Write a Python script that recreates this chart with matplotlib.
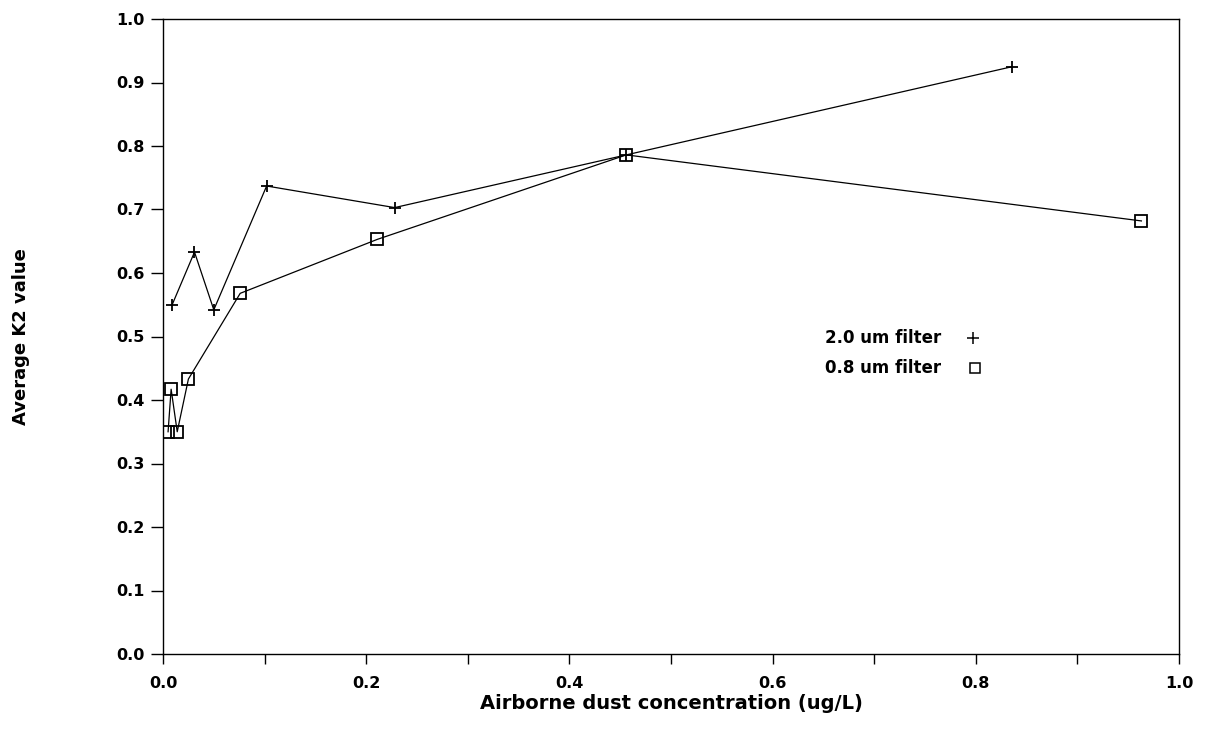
import matplotlib.pyplot as plt
import numpy as np

# ─── Datos ────────────────────────────────────────────────────────
# filtro 2.0 um (+)
x_20 = [0.009, 0.031, 0.050, 0.102, 0.228, 0.456, 0.836]
y_20 = [0.550, 0.633, 0.542, 0.737, 0.703, 0.786, 0.925]
# filtro 0.8 um (cuadrados)
x_08 = [0.005, 0.008, 0.014, 0.025, 0.076, 0.211, 0.456, 0.963]
y_08 = [0.350, 0.417, 0.350, 0.433, 0.568, 0.653, 0.786, 0.682]

xticks = np.arange(0, 1.01, 0.2)
yticks = np.arange(0, 1.01, 0.1)

plt.rcParams['font.family'] = ['DejaVu Sans']
plt.rcParams['font.weight'] = 'bold'

fig = plt.figure(figsize=(12.06, 7.45), dpi=100)
ax = fig.add_axes([163/1206, 1 - 654/745, (1179-163)/1206, (654-19)/745])

ax.plot(x_20, y_20, color='black', lw=0.9, marker='+', ms=9, mew=1.3)
ax.plot(x_08, y_08, color='black', lw=0.9, marker='s', ms=8.5, mew=1.3,
        mfc='none')

ax.set_xlim(0, 1.0)
ax.set_ylim(0, 1.0)
ax.set_xticks(xticks)
ax.set_xticklabels([f"{t:.1f}" for t in xticks])
ax.set_xticks(np.arange(0.1, 1.0, 0.2), minor=True)
ax.set_yticks(yticks)
ax.set_yticklabels([f"{t:.1f}" for t in yticks])

ax.tick_params(axis='x', which='both', direction='out', length=7, width=1,
               labelsize=11.5, pad=9)
ax.tick_params(axis='y', direction='out', length=8.5, width=1,
               labelsize=11.5, pad=5)
for s in ax.spines.values():
    s.set_linewidth(1.0)

ax.set_xlabel("Airborne dust concentration (ug/L)", fontsize=14,
              fontweight='bold', labelpad=2)
ax.set_ylabel("Average K2 value", fontsize=13, fontweight='bold',
              labelpad=62)

# leyenda a mano
ax.text(0.652, 0.497, "2.0 um filter", fontsize=12, fontweight='bold',
        va='center', ha='left')
ax.plot([0.797], [0.497], color='black', marker='+', ms=8, mew=1.1)
ax.text(0.652, 0.450, "0.8 um filter", fontsize=12, fontweight='bold',
        va='center', ha='left')
ax.plot([0.799], [0.450], color='black', marker='s', ms=7, mew=1.1,
        mfc='none')

fig.savefig("out.png", dpi=100)
